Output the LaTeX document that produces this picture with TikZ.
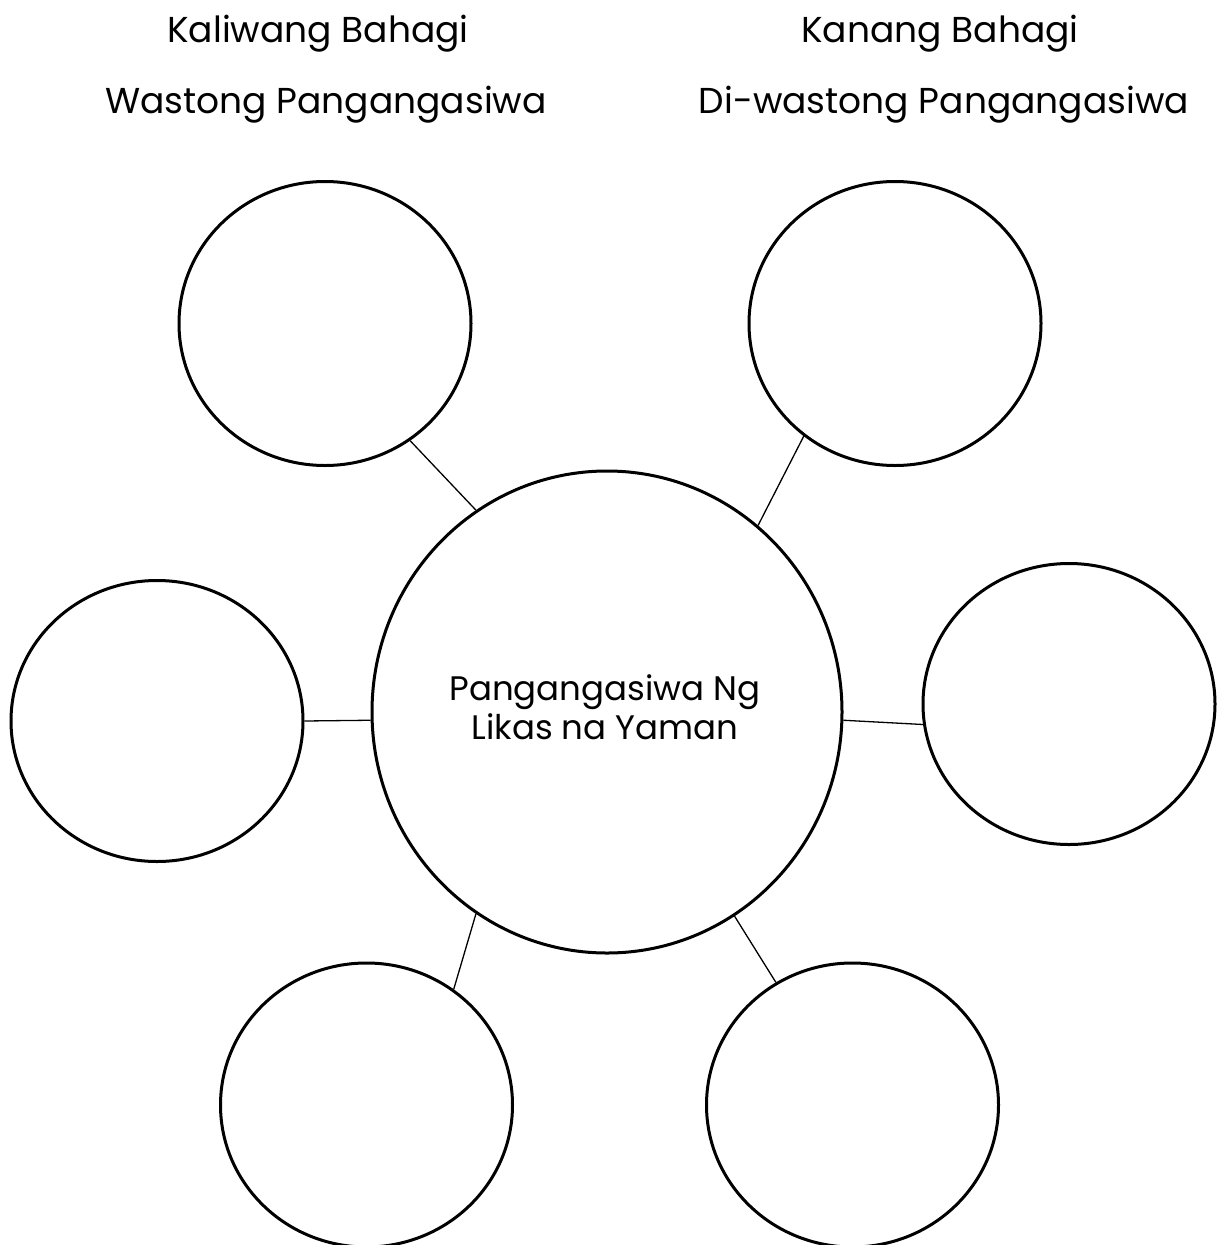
\documentclass[tikz,border=0pt]{standalone}
\usepackage{fontspec}
\setmainfont{Poppins}
\usetikzlibrary{shapes.geometric}
\begin{document}
\begin{tikzpicture}[x=1pt,y=-1pt,
  bubble/.style={draw=black,line width=3pt,ellipse,inner sep=0pt,minimum width=292pt,minimum height=284pt},
  hub/.style={draw=black,line width=3pt,ellipse,inner sep=0pt,minimum width=470pt,minimum height=482pt},
  link/.style={draw=black,line width=1.3pt},
  title/.style={font=\fontsize{36}{40}\selectfont,anchor=base,inner sep=0pt},
  hubtext/.style={font=\fontsize{34}{39}\selectfont,align=center,inner sep=0pt}]
\useasboundingbox (0,0) rectangle (1217,1245);
\clip (0,0) rectangle (1217,1245);
% titles
\node[title] (t1) at (318,42) {Kaliwang Bahagi};
\node[title] (t2) at (326,113) {Wastong Pangangasiwa};
\node[title] (t3) at (940,42) {Kanang Bahagi};
\node[title] (t4) at (944,113) {Di-wastong Pangangasiwa};
% hub
\node[hub] (c) at (607,712) {};
\node[hubtext] (ct) at (605,707) {Pangangasiwa Ng\\Likas na Yaman};
% bubbles
\node[bubble] (tl) at (325,323.5) {};
\node[bubble] (tr) at (895,323.5) {};
\node[bubble,minimum height=281pt] (l) at (157,721) {};
\node[bubble,minimum height=281pt] (r) at (1069,704) {};
\node[bubble] (bl) at (366.5,1105) {};
\node[bubble] (br) at (852.5,1105) {};
% connectors
\draw[link] (tl.-54) -- (c.123.4);
\draw[link] (tr.231) -- (c.51.1);
\draw[link] (l.0) -- (c.182.4);
\draw[link] (c.-2.4) -- (r.188);
\draw[link] (c.-123) -- (bl.53.8);
\draw[link] (c.-58.6) -- (br.122.5);
\end{tikzpicture}
\end{document}
